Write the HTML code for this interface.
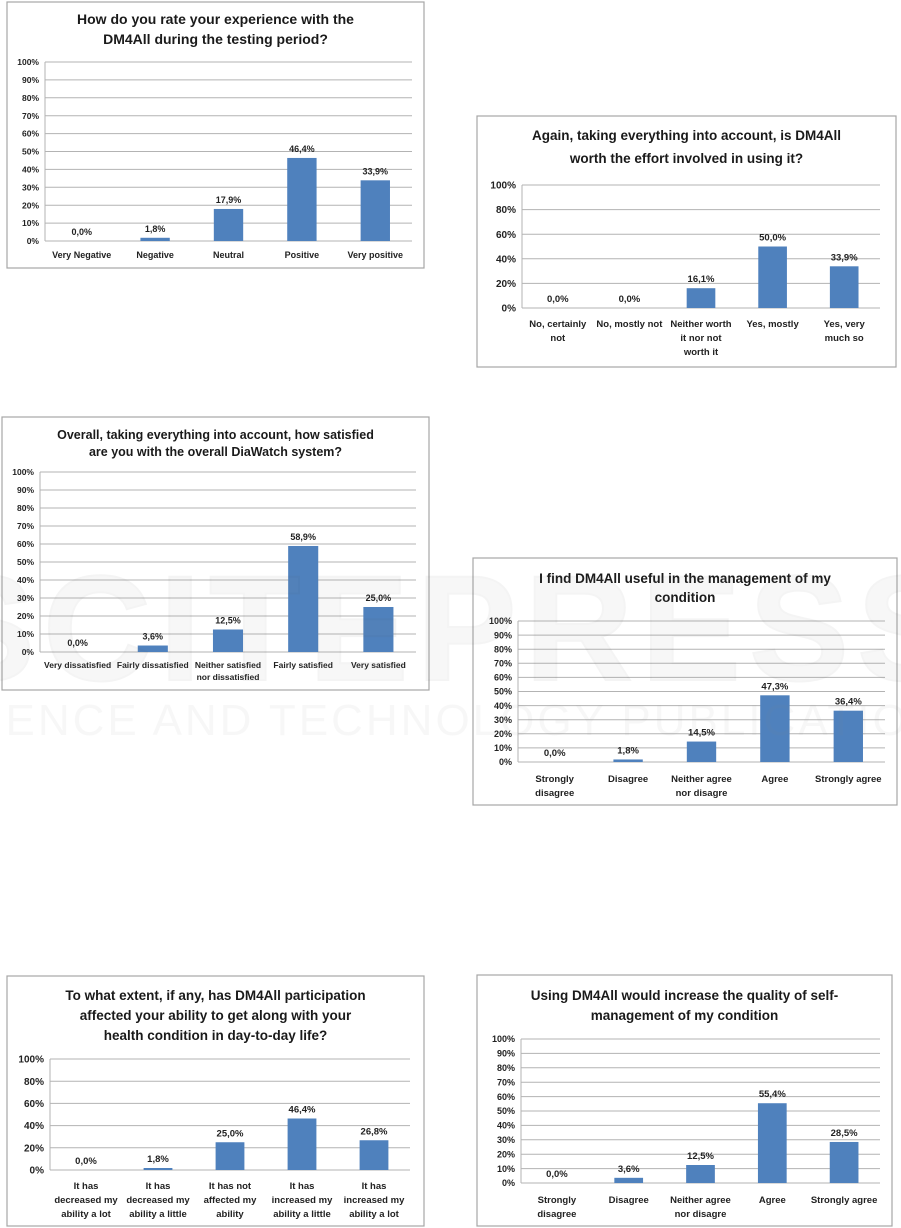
<!DOCTYPE html>
<html><head><meta charset="utf-8">
<style>
html,body{margin:0;padding:0;background:#fff;}
svg{display:block;font-family:"Liberation Sans",sans-serif;}
</style></head>
<body>
<svg id="page" width="901" height="1228" viewBox="0 0 901 1228" xmlns="http://www.w3.org/2000/svg"></svg>
<script>
const c1Categories=[["Very Negative"],["Negative"],["Neutral"],["Positive"],["Very positive"]];
const c1Values=[0.0,1.8,17.9,46.4,33.9];
const c2Categories=[["No, certainly","not"],["No, mostly not"],["Neither worth","it nor not","worth it"],["Yes, mostly"],["Yes, very","much so"]];
const c2Values=[0.0,0.0,16.1,50.0,33.9];
const c3Categories=[["Very dissatisfied"],["Fairly dissatisfied"],["Neither satisfied","nor dissatisfied"],["Fairly satisfied"],["Very satisfied"]];
const c3Values=[0.0,3.6,12.5,58.9,25.0];
const c4Categories=[["Strongly","disagree"],["Disagree"],["Neither agree","nor disagre"],["Agree"],["Strongly agree"]];
const c4Values=[0.0,1.8,14.5,47.3,36.4];
const c5Categories=[["It has","decreased my","ability a lot"],["It has","decreased my","ability a little"],["It has not","affected my","ability"],["It has","increased my","ability a little"],["It has","increased my","ability a lot"]];
const c5Values=[0.0,1.8,25.0,46.4,26.8];
const c6Categories=[["Strongly","disagree"],["Disagree"],["Neither agree","nor disagre"],["Agree"],["Strongly agree"]];
const c6Values=[0.0,3.6,12.5,55.4,28.5];
const ticks10=[0,10,20,30,40,50,60,70,80,90,100];
const ticks20=[0,20,40,60,80,100];

const NS="http://www.w3.org/2000/svg";
const page=document.getElementById('page');
function mk(tag,attrs,parent,text){const e=document.createElementNS(NS,tag);for(const k in attrs)e.setAttribute(k,attrs[k]);if(text!==undefined)e.textContent=text;parent.appendChild(e);return e;}
function fmt(v){return v.toFixed(1).replace('.',',')+'%';}

function chart(id,cfg,cats,vals,ticks){
  const g=mk('g',{},page);
  
  
  const box=mk('rect',{x:cfg.bx,y:cfg.by,width:cfg.bw,height:cfg.bh,fill:'#fff',stroke:'#a6a6a6','stroke-width':1.2},g);
  
  
  cfg.title.forEach((t,i)=>{
    const e=mk('text',{x:cfg.bx+cfg.bw/2+(cfg.tdx||0),y:cfg.ty[i],'text-anchor':'middle','font-size':cfg.tfs,'font-weight':'bold',fill:'#1a1a1a'},g,t);
    
    
  });
  const y=v=>cfg.y0-(v/100)*(cfg.y0-cfg.y100);
  ticks.forEach(t=>{
    const ln=mk('line',{x1:cfg.x0,x2:cfg.x1,y1:y(t),y2:y(t),stroke:'#b3b3b3','stroke-width':1},g);
    
    
    const lb=mk('text',{x:cfg.x0-6,y:y(t)+cfg.kfs*0.36,'text-anchor':'end','font-size':cfg.kfs,'font-weight':'bold',fill:'#222'},g,t+'%');
    
    
  });
  const ax=mk('line',{x1:cfg.x0,x2:cfg.x0,y1:cfg.y100,y2:cfg.y0,stroke:'#b3b3b3','stroke-width':1},g);
  
  
  const cw=(cfg.x1-cfg.x0)/cats.length;
  vals.forEach((v,i)=>{
    const cx=cfg.x0+cw*(i+0.5);
    const bw=cw*0.4;
    const b=mk('rect',{x:cx-bw/2,y:y(v),width:bw,height:cfg.y0-y(v),fill:'#4f81bd'},g);
    
    
    const vl=mk('text',{x:cx,y:y(v)-6,'text-anchor':'middle','font-size':cfg.vfs,'font-weight':'bold',fill:'#222'},g,fmt(v));
    
    
    cats[i].forEach((s,j)=>{
      const cl=mk('text',{x:cx,y:cfg.cy+j*cfg.clh,'text-anchor':'middle','font-size':cfg.cfs,'font-weight':'bold',fill:'#222'},g,s);
      
      
    });
  });
}

chart('chart-experience-rating',{bx:7,by:2,bw:417,bh:266,title:['How do you rate your experience with the','DM4All during the testing period?'],ty:[24,44],tfs:14,x0:45,x1:412,y0:241,y100:62,kfs:8.5,vfs:9,cfs:9,cy:258,clh:13},c1Categories,c1Values,ticks10);
chart('chart-worth-effort',{bx:477,by:116,bw:419,bh:251,title:['Again, taking everything into account, is DM4All','worth the effort involved in using it?'],ty:[140,163],tfs:13.5,x0:522,x1:880,y0:308,y100:185,kfs:10,vfs:9.5,cfs:9.5,cy:327,clh:14},c2Categories,c2Values,ticks20);
chart('chart-overall-satisfaction',{bx:2,by:417,bw:427,bh:273,title:['Overall, taking everything into account, how satisfied','are you with the overall DiaWatch system?'],ty:[439,456],tfs:12.5,x0:40,x1:416,y0:652,y100:472,kfs:8.5,vfs:9,cfs:8.5,cy:668,clh:12},c3Categories,c3Values,ticks10);
chart('chart-usefulness',{bx:473,by:558,bw:424,bh:247,title:['I find DM4All useful in the management of my','condition'],ty:[583,602],tfs:13.5,x0:518,x1:885,y0:762,y100:621,kfs:9,vfs:9.5,cfs:9.5,cy:782,clh:14},c4Categories,c4Values,ticks10);
chart('chart-day-to-day-ability',{bx:7,by:976,bw:417,bh:250,title:['To what extent, if any, has DM4All participation','affected your ability to get along with your','health condition in day-to-day life?'],ty:[1000,1020,1040],tfs:13.5,x0:50,x1:410,y0:1170,y100:1059,kfs:10,vfs:9.5,cfs:9.5,cy:1189,clh:14},c5Categories,c5Values,ticks20);
chart('chart-self-management-quality',{bx:477,by:975,bw:415,bh:251,title:['Using DM4All would increase the quality of self-','management of my condition'],ty:[1000,1020],tfs:13.5,x0:521,x1:880,y0:1183,y100:1039,kfs:9,vfs:9.5,cfs:9.5,cy:1203,clh:14},c6Categories,c6Values,ticks10);

const wm=mk('g',{opacity:0.06},page);


const w1=mk('text',{x:450,y:680,'text-anchor':'middle','font-size':150,'font-weight':'bold',fill:'#888',stroke:'#555','stroke-width':2,'letter-spacing':8},wm,'SCITEPRESS');


const w2=mk('text',{x:450,y:735,'text-anchor':'middle','font-size':44,fill:'#888','letter-spacing':3},wm,'SCIENCE AND TECHNOLOGY PUBLICATIONS');


</script>
</body></html>
